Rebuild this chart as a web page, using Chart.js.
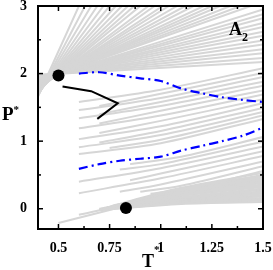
<!DOCTYPE html>
<html>
<head>
<meta charset="utf-8">
<script src="https://cdn.jsdelivr.net/npm/chart.js@4/dist/chart.umd.min.js"></script>
<style>
  body { margin: 0; background: #fff; }
  #wrap { position: relative; width: 273px; height: 270px; }
  #wrap canvas { position: absolute; left: 0; top: 0; }
  .lbl { position: absolute; font-family: 'Liberation Serif', 'DejaVu Serif', serif; font-weight: bold; line-height: 1; white-space: nowrap; color: #000; }
  .lbl span { position: relative; }
</style>
</head>
<body>
<div id="wrap">
  <canvas id="chart"></canvas>
  <div class="lbl" style="left:2px; top:104px; font-size:19px;">P<span style="font-size:11px; top:-7px;">*</span></div>
  <div class="lbl" style="left:142px; top:252px; font-size:18px;">T<span style="font-size:11px; top:-14px;">*</span></div>
  <div class="lbl" style="left:229px; top:20px; font-size:18px;">A<span style="font-size:12px; top:6px;">2</span></div>
</div>
<script>
// axis ticks
const xTicks = [0.5, 0.75, 1, 1.25, 1.5];
const xTickLabels = ['0.5', '0.75', '1', '1.25', '1.5'];
const xMinorTicks = [0.625, 0.875, 1.125, 1.375];
const yTicks = [0, 1, 2, 3];
const yTickLabels = ['0', '1', '2', '3'];
const yMinorTicks = [0.5, 1.5, 2.5];

// gray isochores, [T, P] points
const upperFanLines = [
  [[0.4, 1.66], [0.60, 3]], [[0.4, 1.67], [0.63, 3]], [[0.4, 1.68], [0.66, 3]],
  [[0.4, 1.69], [0.69, 3]], [[0.4, 1.70], [0.72, 3]], [[0.4, 1.71], [0.75, 3]],
  [[0.4, 1.72], [0.78, 3]], [[0.4, 1.73], [0.81, 3]], [[0.4, 1.74], [0.84, 3]],
  [[0.4, 1.75], [0.87, 3]], [[0.4, 1.76], [0.90, 3]], [[0.4, 1.77], [0.94, 3]],
  [[0.4, 1.78], [0.97, 3]], [[0.4, 1.79], [1.01, 3]], [[0.4, 1.80], [1.04, 3]],
  [[0.4, 1.81], [1.08, 3]], [[0.4, 1.82], [1.12, 3]], [[0.4, 1.83], [1.16, 3]],
  [[0.4, 1.84], [1.21, 3]], [[0.4, 1.85], [1.25, 3]], [[0.4, 1.86], [1.29, 3]],
  [[0.4, 1.87], [1.34, 3]], [[0.4, 1.88], [1.39, 3]], [[0.4, 1.89], [1.44, 3]],
  [[0.4, 1.90], [1.5, 2.95]], [[0.4, 1.91], [1.5, 2.88]], [[0.4, 1.92], [1.5, 2.82]],
  [[0.4, 1.93], [1.5, 2.75]], [[0.4, 1.94], [1.5, 2.69]], [[0.4, 1.95], [1.5, 2.62]],
  [[0.4, 1.95], [1.5, 2.56]], [[0.4, 1.96], [1.5, 2.49]], [[0.4, 1.96], [1.5, 2.43]],
  [[0.4, 1.97], [1.5, 2.36]], [[0.4, 1.97], [1.5, 2.30]], [[0.4, 1.98], [1.5, 2.23]],
  [[0.4, 1.98], [1.5, 2.17]]
];
const lowerLines = [
  [[0.6, 1.58], [1.0, 1.76], [1.5, 2.08]],
  [[0.7, 1.52], [1.0, 1.70], [1.5, 2.01]],
  [[0.6, 1.46], [1.0, 1.64], [1.5, 1.95]],
  [[0.7, 1.40], [1.0, 1.58], [1.5, 1.88]],
  [[0.6, 1.34], [1.0, 1.52], [1.5, 1.82]],
  [[0.7, 1.26], [1.0, 1.45], [1.5, 1.75]],
  [[0.6, 1.19], [1.0, 1.38], [1.5, 1.69]],
  [[0.7, 1.12], [1.0, 1.30], [1.5, 1.62]],
  [[0.6, 1.03], [1.0, 1.22], [1.5, 1.56]],
  [[0.7, 0.98], [1.0, 1.15], [1.5, 1.49]],
  [[0.6, 0.91], [1.0, 1.09], [1.5, 1.43]],
  [[0.75, 0.90], [1.0, 1.02], [1.5, 1.38]],
  [[0.6, 0.81], [1.0, 0.97], [1.5, 1.33]],
  [[0.85, 0.66], [1.1, 0.77], [1.5, 1.06]],
  [[0.8, 0.58], [1.0, 0.66], [1.5, 0.99]],
  [[0.6, 0.40], [1.0, 0.60], [1.5, 0.92]],
  [[0.85, 0.42], [1.0, 0.52], [1.5, 0.85]],
  [[0.6, 0.23], [1.0, 0.45], [1.5, 0.78]],
  [[0.8, 0.25], [1.0, 0.36], [1.5, 0.70]],
  [[0.9, 0.25], [1.1, 0.34], [1.5, 0.63]],
  [[0.95, 0.22], [1.2, 0.34], [1.5, 0.56]]
];
const bottomLines = [
  [[0.5, -0.21], [0.75, -0.02], [0.98, 0.16], [1.5, 0.47]],
  [[0.6, -0.09], [0.8, 0.04], [1.1, 0.20], [1.5, 0.40]],
  [[0.70, -0.02], [1.1, 0.07], [1.5, 0.10]],
  [[0.70, -0.02], [1.1, 0.08], [1.5, 0.12]],
  [[0.70, -0.01], [1.1, 0.09], [1.5, 0.14]],
  [[0.70, -0.01], [1.1, 0.10], [1.5, 0.16]],
  [[0.70, 0.00], [1.1, 0.11], [1.5, 0.18]],
  [[0.71, 0.00], [1.1, 0.12], [1.5, 0.20]],
  [[0.71, 0.00], [1.1, 0.13], [1.5, 0.22]],
  [[0.72, 0.01], [1.1, 0.14], [1.5, 0.24]],
  [[0.72, 0.01], [1.1, 0.15], [1.5, 0.26]],
  [[0.73, 0.01], [1.1, 0.16], [1.5, 0.28]],
  [[0.73, 0.01], [1.1, 0.17], [1.5, 0.30]],
  [[0.74, 0.02], [1.1, 0.19], [1.5, 0.32]],
  [[0.74, 0.02], [1.1, 0.20], [1.5, 0.34]],
  [[0.75, 0.03], [1.1, 0.21], [1.5, 0.36]],
  [[0.75, 0.03], [1.1, 0.22], [1.5, 0.38]],
  [[0.76, 0.04], [1.1, 0.23], [1.5, 0.40]],
  [[0.76, 0.04], [1.1, 0.24], [1.5, 0.42]],
  [[0.77, 0.05], [1.1, 0.26], [1.5, 0.44]],
  [[0.78, 0.05], [1.1, 0.27], [1.5, 0.46]],
  [[0.79, 0.06], [1.1, 0.28], [1.5, 0.48]],
  [[0.80, 0.07], [1.1, 0.29], [1.5, 0.50]],
  [[0.82, 0.09], [1.1, 0.31], [1.5, 0.53]]
];

// blue dash-dot curves
const blueUpper = [[0.6, 2.0], [0.7, 2.02], [0.8, 1.97], [0.9, 1.93], [1.0, 1.89], [1.1, 1.78], [1.2, 1.71], [1.3, 1.65], [1.4, 1.61], [1.5, 1.58]];
const blueLower = [[0.6, 0.59], [0.7, 0.66], [0.8, 0.71], [0.9, 0.74], [1.0, 0.77], [1.1, 0.86], [1.2, 0.93], [1.3, 1.0], [1.4, 1.08], [1.5, 1.2]];

// black line and dots
const blackLine = [[0.52, 1.81], [0.66, 1.74], [0.79, 1.56], [0.69, 1.33]];
const dots = [[0.5, 1.97], [0.83, 0.01]];

const toXY = pts => pts.map(p => ({ x: p[0], y: p[1] }));

const datasets = [];
datasets.push({ data: toXY(dots), pointRadius: 6, pointBackgroundColor: '#000', pointBorderWidth: 0, showLine: false });
datasets.push({ data: toXY(blackLine), showLine: true, borderColor: '#000', borderWidth: 2, pointRadius: 0, tension: 0 });
[blueUpper, blueLower].forEach(c => datasets.push({
  data: toXY(c), showLine: true, borderColor: '#0000ff', borderWidth: 2.2,
  borderDash: [9, 4, 2, 4], pointRadius: 0, tension: 0.3
}));
[...upperFanLines, ...lowerLines, ...bottomLines].forEach(l => datasets.push({
  data: toXY(l), showLine: true, borderColor: '#d6d6d6', borderWidth: 2,
  pointRadius: 0, tension: 0.3
}));

// frame with inward ticks on all sides
const frameTicks = {
  id: 'frameTicks',
  afterDatasetsDraw(chart) {
    const { ctx, chartArea: a, scales: { x, y } } = chart;
    ctx.save();
    ctx.strokeStyle = '#000';
    ctx.lineWidth = 1.5;
    const seg = (x1, y1, x2, y2) => { ctx.beginPath(); ctx.moveTo(x1, y1); ctx.lineTo(x2, y2); ctx.stroke(); };
    const xt = (vals, len) => vals.forEach(v => {
      const px = x.getPixelForValue(v);
      seg(px, a.bottom, px, a.bottom - len);
      seg(px, a.top, px, a.top + len);
    });
    const yt = (vals, len) => vals.forEach(v => {
      const py = y.getPixelForValue(v);
      seg(a.left, py, a.left + len, py);
      seg(a.right, py, a.right - len, py);
    });
    xt(xTicks, 5); xt(xMinorTicks, 3);
    yt(yTicks, 5); yt(yMinorTicks, 3);
    ctx.lineWidth = 2;
    ctx.strokeRect(a.left, a.top, a.right - a.left, a.bottom - a.top);
    ctx.restore();
  }
};

const tickFont = { family: "'Liberation Serif', serif", size: 14, weight: 'bold' };

new Chart(document.getElementById('chart'), {
  type: 'scatter',
  data: { datasets },
  options: {
    responsive: true,
    maintainAspectRatio: false,
    animation: false,
    layout: { padding: { left: 0, top: 6, right: 10, bottom: 0 } },
    plugins: { legend: { display: false }, tooltip: { enabled: false } },
    scales: {
      x: {
        type: 'linear', min: 0.4, max: 1.5,
        grid: { display: false }, border: { display: false },
        afterBuildTicks: s => { s.ticks = xTicks.map(v => ({ value: v })); },
        afterFit: s => { s.height = 41; s.paddingLeft = 0; s.paddingRight = 0; },
        ticks: { color: '#000', font: tickFont, padding: 3, maxRotation: 0, autoSkip: false,
          callback: (v, i) => xTickLabels[i] }
      },
      y: {
        type: 'linear', min: -0.3, max: 3,
        grid: { display: false }, border: { display: false },
        afterBuildTicks: s => { s.ticks = yTicks.map(v => ({ value: v })); },
        afterFit: s => { s.width = 38; s.paddingTop = 0; s.paddingBottom = 0; },
        ticks: { color: '#000', font: tickFont, padding: 3, autoSkip: false,
          callback: (v, i) => yTickLabels[i] }
      }
    }
  },
  plugins: [frameTicks]
});
</script>
</body>
</html>
